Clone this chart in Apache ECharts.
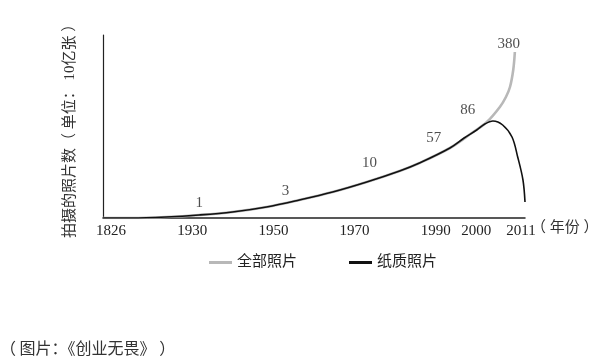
<!DOCTYPE html>
<html>
<head>
<meta charset="utf-8">
<script src="https://cdn.jsdelivr.net/npm/echarts@6/dist/echarts.min.js"></script>
<style>
html,body{margin:0;padding:0;background:#fff;}
#c{width:595px;height:363px;}
</style>
</head>
<body>
<div id="c"></div>
<script>
// Tick labels (years)
const tickYears = [1826, 1930, 1950, 1970, 1990, 2000, 2011];
// 全部照片 curve (year, relative height)
const allYears  = [1824, 1826, 1915, 1923.6, 1931.7, 1939.9, 1948.3, 1956.4, 1964.6, 1973, 1981.1, 1986, 1993.5, 1998.9, 2002.6, 2005.8, 2007.3, 2008.3, 2009.1, 2009.5];
const allValues = [0,    0,    0,    1,      3,      6,      11,     18,     26,     36,   47,     55,   70,     85,     96,     111,    121,    131,    148,    166];
// 纸质照片 curve
const paperYears  = [1824, 1826, 1915, 1923.6, 1931.7, 1939.9, 1948.3, 1956.4, 1964.6, 1973, 1981.1, 1986, 1993.5, 1997, 2000.1, 2002.1, 2004.1, 2006.5, 2008.8, 2010.2, 2011.5, 2012];
const paperValues = [0,    0,    0,    1,      3,      6,      11,     18,     26,     36,   47,     55,   70,     80,   88,     94,     97,     93,     81,     61,     38,     16];
// Annotated totals (10亿张) and where they sit on the chart
const annoValues  = [1, 3, 10, 57, 86, 380];
const annoYears   = [1931.7, 1953, 1973.7, 1989.5, 1997.9, 2008];
const annoHeights = [15, 27, 55, 80, 108, 174];

const serif = '"Liberation Serif","Noto Sans CJK SC",serif';
const chart = echarts.init(document.getElementById('c'), null, {renderer: 'canvas'});
chart.setOption({
  animation: false,
  backgroundColor: '#fff',
  grid: {left: 103, right: 70, top: 35, bottom: 145, containLabel: false},
  legend: {
    left: 204, top: 250,
    itemWidth: 23, itemHeight: 3, itemGap: 52,
    textStyle: {fontFamily: serif, fontSize: 15, color: '#222'},
    data: [
      {name: '全部照片', icon: 'rect', itemStyle: {color: '#b8b8b8'}},
      {name: '纸质照片', icon: 'rect', itemStyle: {color: '#111'}}
    ]
  },
  xAxis: {
    type: 'value', min: 1824, max: 2012,
    breaks: [{start: 1826, end: 1910, gap: 0}],
    breakArea: {show: false},
    splitLine: {show: false},
    axisTick: {show: false},
    axisLine: {show: true, lineStyle: {color: '#222', width: 1.5}},
    axisLabel: {
      customValues: tickYears,
      formatter: v => String(v),
      fontFamily: serif, fontSize: 15, color: '#222', margin: 6
    }
  },
  yAxis: {
    type: 'value', min: 0, max: 183,
    splitLine: {show: false},
    axisTick: {show: false},
    axisLabel: {show: false},
    axisLine: {show: true, lineStyle: {color: '#222', width: 1.2}}
  },
  graphic: [
    {type: 'text', left: 531, top: 221, style: {text: '（ 年份 ）', font: '15px ' + serif, fill: '#333'}},
    {type: 'text', x: 63, y: 238, rotation: Math.PI / 2, style: {text: '拍摄的照片数（ 单位： 10亿张 ）', font: '15px ' + serif, fill: '#333'}},
    {type: 'text', left: 0, top: 340, style: {text: '（ 图片：《创业无畏》 ）', font: '16px "Noto Sans CJK SC", sans-serif', fill: '#333'}}
  ],
  series: [
    {
      name: '全部照片', type: 'line', smooth: 0.35, symbol: 'none',
      lineStyle: {color: '#b8b8b8', width: 2.6}, itemStyle: {color: '#b8b8b8'},
      data: allYears.map((y, i) => [y, allValues[i]]), z: 2
    },
    {
      name: '纸质照片', type: 'line', smooth: 0.35, symbol: 'none',
      lineStyle: {color: '#111', width: 1.6}, itemStyle: {color: '#111'},
      data: paperYears.map((y, i) => [y, paperValues[i]]), z: 3
    },
    {
      type: 'scatter', symbolSize: 0, silent: true,
      data: annoYears.map((y, i) => ({value: [y, annoHeights[i]], label: {formatter: String(annoValues[i])}})),
      label: {show: true, position: 'inside', fontFamily: serif, fontSize: 15, color: '#222'}
    }
  ]
});
</script>
</body>
</html>
